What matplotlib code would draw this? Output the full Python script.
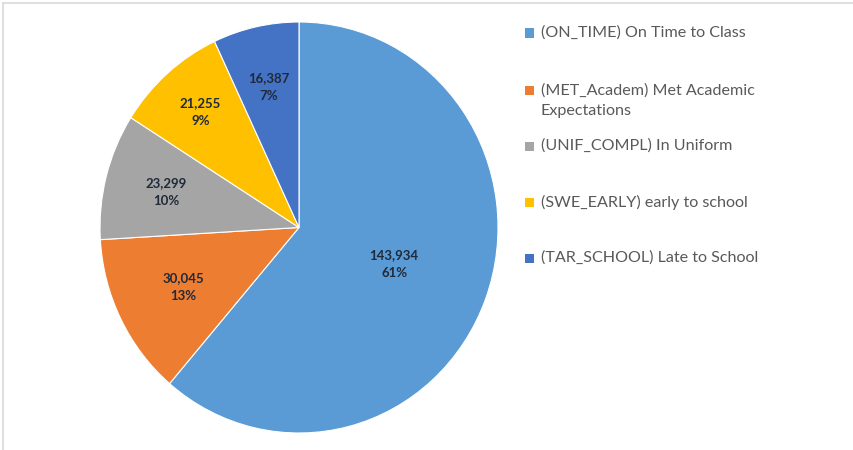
import numpy as np
import matplotlib.pyplot as plt
from matplotlib.lines import Line2D
from matplotlib.patches import Rectangle

# Datos
codes = ["ON_TIME", "MET_Academ", "UNIF_COMPL", "SWE_EARLY", "TAR_SCHOOL"]
names = ["On Time to Class", "Met Academic\nExpectations", "In Uniform",
         "early to school", "Late to School"]
counts = [143934, 30045, 23299, 21255, 16387]
colors = ["#5B9BD5", "#ED7D31", "#A5A5A5", "#FFC000", "#4472C4"]

# Layout (pixels in a 854x450 figure)
W, H = 854, 450
label_r = [0.51, 0.65, 0.69, 0.75, 0.70]
legend_y = [33, 101, 146, 202, 258]
square_y = [33, 90, 146, 202, 258]

plt.rcParams['font.family'] = ['Lato', 'DejaVu Sans']

fig = plt.figure(figsize=(W / 100, H / 100), dpi=100)
ax = fig.add_axes([100 / W, (H - 433) / H, 398 / W, 411 / H])

wedges, _ = ax.pie(counts, colors=colors, startangle=90, counterclock=False,
                   wedgeprops=dict(edgecolor="white", linewidth=0.8))
ax.set_aspect('auto')
ax.set_xlim(-1, 1)
ax.set_ylim(-1, 1)

total = sum(counts)
for w, c, r in zip(wedges, counts, label_r):
    ang = np.deg2rad((w.theta1 + w.theta2) / 2)
    pct = round(100 * c / total)
    ax.text(r * np.cos(ang), r * np.sin(ang), f"{c:,}\n{pct}%",
            ha="center", va="center", fontsize=9.5, fontweight="bold",
            color="#1F2A3A", linespacing=1.6)

# Leyenda manual
for i in range(len(codes)):
    fig.patches.append(Rectangle((525 / W, 1 - (square_y[i] + 4.5) / H), 9 / W, 9 / H,
                                 transform=fig.transFigure, facecolor=colors[i],
                                 edgecolor="none"))
    fig.text(541 / W, 1 - legend_y[i] / H, f"({codes[i]}) {names[i]}",
             ha="left", va="center", fontsize=11.6, color="#595959", linespacing=1.55)

# Borde del gráfico
fig.add_artist(Line2D([3 / W, 1], [1 - 3 / H, 1 - 3 / H], color="#D9D9D9", lw=1.2,
                      transform=fig.transFigure))
fig.add_artist(Line2D([3 / W, 3 / W], [0, 1 - 3 / H], color="#D9D9D9", lw=1.2,
                      transform=fig.transFigure))

fig.savefig("out.png", dpi=100)
